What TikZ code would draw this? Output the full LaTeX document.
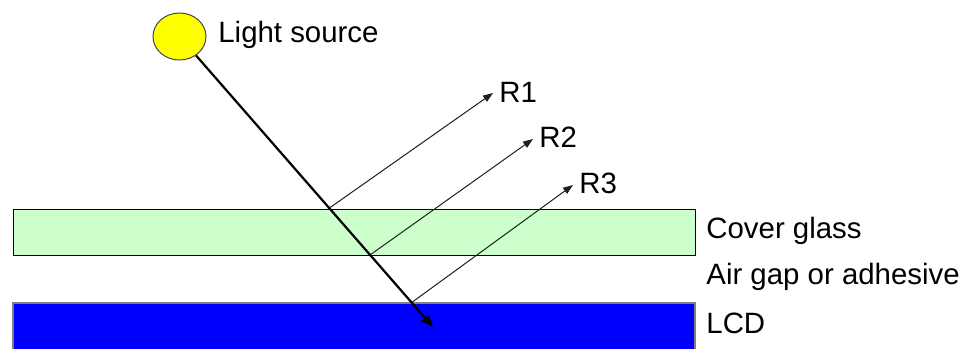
\documentclass[tikz,border=0pt]{standalone}
\usepackage{fontspec}
\setmainfont{Liberation Sans}
\usepackage{tikz}
\usetikzlibrary{arrows.meta}
\definecolor{lmpfill}{RGB}{255,255,0}
\definecolor{lmpedge}{RGB}{70,70,70}
\definecolor{glsfill}{RGB}{204,255,204}
\definecolor{lcdfill}{RGB}{0,0,255}
\definecolor{rayink}{RGB}{30,30,30}
\tikzset{
  layer/.style={
    rectangle, inner sep=0pt, minimum width=341pt
  },
  glasslayer/.style={layer, draw=black, line width=0.5pt, fill=glsfill, minimum height=23pt},
  lcdlayer/.style={layer, draw=gray, line width=0.6pt, fill=lcdfill, minimum height=25pt},
  lamp/.style={
    ellipse, draw=lmpedge, line width=0.5pt, fill=lmpfill,
    minimum width=26.5pt, minimum height=23.5pt, inner sep=0pt
  },
  lbl/.style={anchor=west, inner sep=0pt, font=\fontsize{14.7}{17}\selectfont},
  inray/.style={-{Triangle[length=6pt,width=4.6pt]}, draw=black, line width=1.1pt},
  outray/.style={-{Triangle[length=5pt,width=3.6pt]}, draw=rayink, line width=0.5pt}
}
\usetikzlibrary{shapes.geometric}
\begin{document}
\begin{tikzpicture}[x=0.5pt,y=-0.5pt]
  \useasboundingbox (0,0) rectangle (974,348);

  % Layers
  \node[glasslayer] (glass) at (354,232) {};
  \node[lcdlayer] (lcd) at (354,328) {};

  % Source
  \node[lamp] (lamp) at (179.5,36.5) {};
  \node[lbl] (lamptxt) at (218,35) {Light source};

  % Reflection points and ray ends
  \coordinate (hit1) at (328,209);
  \coordinate (hit2) at (370,255);
  \coordinate (hit3) at (411,303);
  \coordinate (tip) at (433,327);
  \coordinate (end1) at (493,93);
  \coordinate (end2) at (533,139);
  \coordinate (end3) at (573,185);

  \draw[outray] (hit1) -- (end1);
  \draw[outray] (hit2) -- (end2);
  \draw[outray] (hit3) -- (end3);
  \draw[inray] (lamp) -- (tip);

  \node[lbl] (r1) at (499,92) {R1};
  \node[lbl] (r2) at (539,137) {R2};
  \node[lbl] (r3) at (579,183) {R3};

  \node[lbl] (glasstxt) at (706,231) {Cover glass};
  \node[lbl] (gaptxt) at (706,277) {Air gap or adhesive};
  \node[lbl] (lcdtxt) at (706,323) {LCD};
\end{tikzpicture}
\end{document}
